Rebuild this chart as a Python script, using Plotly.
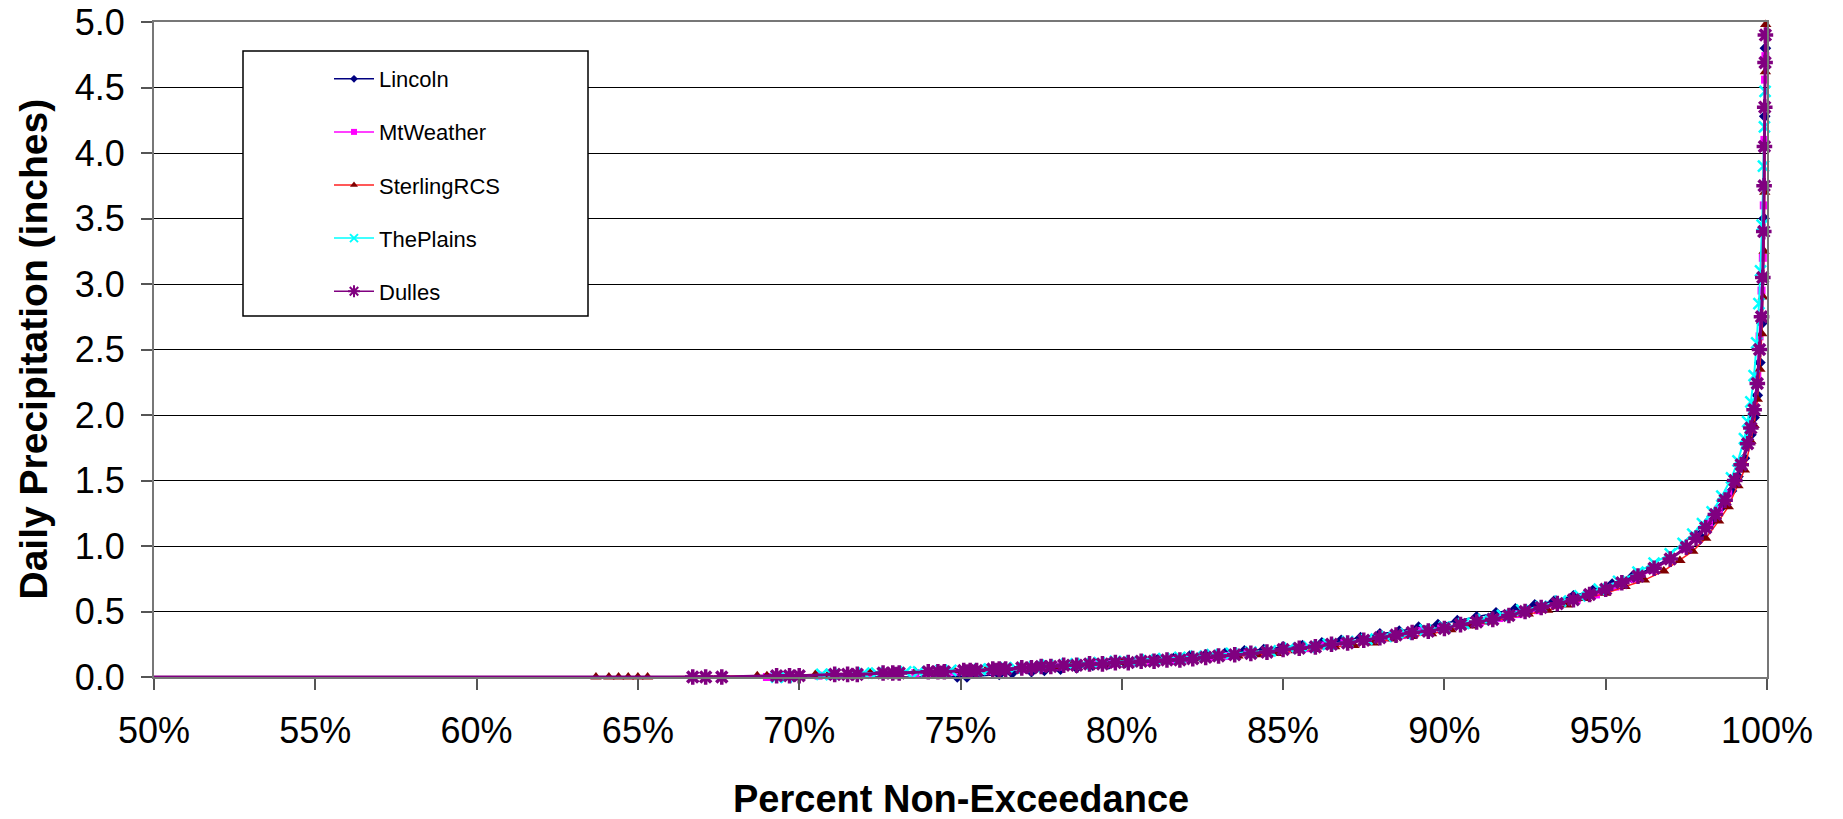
import plotly.graph_objects as go

# ---------------- data ----------------
X_TICKS = [0.50, 0.55, 0.60, 0.65, 0.70, 0.75, 0.80, 0.85, 0.90, 0.95, 1.00]
Y_TICKS = [0.0, 0.5, 1.0, 1.5, 2.0, 2.5, 3.0, 3.5, 4.0, 4.5, 5.0]

lincoln_x = [
    0.000, 0.749, 0.752, 0.762, 0.766, 0.772, 0.776, 0.781, 0.786, 0.791,
    0.796, 0.801, 0.806, 0.811, 0.816, 0.821, 0.826, 0.832, 0.838, 0.844,
    0.850, 0.856, 0.862, 0.868, 0.874, 0.880, 0.886, 0.892, 0.898, 0.904,
    0.910, 0.916, 0.922, 0.928, 0.934, 0.940, 0.946, 0.952, 0.958, 0.964,
    0.970, 0.975, 0.979, 0.983, 0.986, 0.989, 0.991, 0.993, 0.995, 0.996,
    0.997, 0.9978, 0.9984, 0.9988, 0.9991, 0.9993, 0.9995]
lincoln_y = [
    0.00, 0.00, 0.00, 0.02, 0.03, 0.04, 0.05, 0.06, 0.07, 0.09,
    0.10, 0.11, 0.12, 0.13, 0.14, 0.16, 0.17, 0.18, 0.20, 0.21,
    0.23, 0.24, 0.26, 0.28, 0.30, 0.33, 0.35, 0.38, 0.40, 0.43,
    0.46, 0.49, 0.52, 0.55, 0.58, 0.62, 0.66, 0.71, 0.76, 0.83,
    0.91, 0.99, 1.08, 1.19, 1.30, 1.42, 1.53, 1.67, 1.85, 1.98,
    2.15, 2.40, 2.70, 3.05, 3.50, 4.28, 4.80]

mtweather_x = [
    0.000, 0.690, 0.694, 0.706, 0.710, 0.722, 0.726, 0.736, 0.740, 0.748,
    0.752, 0.759, 0.763, 0.770, 0.775, 0.781, 0.786, 0.792, 0.797, 0.803,
    0.809, 0.815, 0.821, 0.827, 0.833, 0.839, 0.845, 0.851, 0.857, 0.863,
    0.869, 0.875, 0.881, 0.887, 0.893, 0.899, 0.905, 0.911, 0.917, 0.923,
    0.929, 0.935, 0.941, 0.947, 0.953, 0.959, 0.965, 0.970, 0.974, 0.978,
    0.982, 0.985, 0.988, 0.990, 0.992, 0.994, 0.995, 0.996, 0.997, 0.9977,
    0.9983, 0.9987, 0.9990, 0.9992, 0.9994, 0.9995]
mtweather_y = [
    0.00, 0.00, 0.00, 0.01, 0.01, 0.02, 0.02, 0.03, 0.03, 0.04,
    0.04, 0.05, 0.05, 0.06, 0.07, 0.08, 0.09, 0.10, 0.10, 0.11,
    0.12, 0.13, 0.14, 0.15, 0.16, 0.18, 0.19, 0.21, 0.22, 0.24,
    0.26, 0.28, 0.30, 0.32, 0.35, 0.37, 0.40, 0.42, 0.45, 0.48,
    0.51, 0.55, 0.59, 0.63, 0.69, 0.75, 0.82, 0.90, 0.98, 1.07,
    1.18, 1.28, 1.40, 1.50, 1.63, 1.80, 1.92, 2.08, 2.30, 2.60,
    2.95, 3.20, 3.60, 4.10, 4.56, 4.74]

sterling_x = [
    0.000, 0.637, 0.641, 0.644, 0.647, 0.650, 0.653, 0.687, 0.690, 0.693,
    0.705, 0.709, 0.722, 0.726, 0.736, 0.740, 0.748, 0.752, 0.758, 0.762,
    0.768, 0.773, 0.779, 0.784, 0.790, 0.795, 0.800, 0.806, 0.812, 0.818,
    0.824, 0.830, 0.836, 0.842, 0.848, 0.854, 0.860, 0.866, 0.872, 0.878,
    0.884, 0.890, 0.896, 0.902, 0.908, 0.914, 0.920, 0.926, 0.932, 0.938,
    0.944, 0.950, 0.956, 0.962, 0.968, 0.973, 0.977, 0.981, 0.985, 0.988,
    0.991, 0.993, 0.995, 0.996, 0.997, 0.9978, 0.9984, 0.9988, 0.9991, 0.9993,
    0.9995, 0.9996]
sterling_y = [
    0.00, 0.00, 0.00, 0.00, 0.00, 0.00, 0.00, 0.01, 0.01, 0.01,
    0.02, 0.02, 0.03, 0.03, 0.04, 0.04, 0.05, 0.05, 0.06, 0.06,
    0.07, 0.07, 0.08, 0.09, 0.10, 0.10, 0.11, 0.12, 0.12, 0.13,
    0.14, 0.15, 0.16, 0.17, 0.18, 0.20, 0.21, 0.23, 0.24, 0.26,
    0.29, 0.31, 0.33, 0.36, 0.39, 0.42, 0.45, 0.48, 0.51, 0.55,
    0.60, 0.64, 0.69, 0.74, 0.81, 0.89, 0.96, 1.06, 1.19, 1.30,
    1.46, 1.58, 1.80, 1.92, 2.12, 2.35, 2.62, 2.90, 3.25, 3.70,
    4.62, 4.98]

plains_x = [
    0.000, 0.693, 0.696, 0.707, 0.710, 0.720, 0.724, 0.733, 0.737, 0.744,
    0.747, 0.756, 0.759, 0.764, 0.767, 0.773, 0.777, 0.783, 0.788, 0.793,
    0.798, 0.803, 0.808, 0.813, 0.818, 0.823, 0.828, 0.834, 0.840, 0.846,
    0.852, 0.858, 0.864, 0.870, 0.876, 0.882, 0.888, 0.894, 0.900, 0.906,
    0.912, 0.918, 0.924, 0.930, 0.936, 0.942, 0.948, 0.954, 0.960, 0.965,
    0.970, 0.974, 0.977, 0.980, 0.983, 0.986, 0.989, 0.991, 0.993, 0.994,
    0.995, 0.996, 0.9968, 0.9975, 0.9980, 0.9985, 0.9989, 0.9992, 0.9994]
plains_y = [
    0.00, 0.00, 0.00, 0.02, 0.02, 0.03, 0.03, 0.04, 0.04, 0.05,
    0.05, 0.06, 0.06, 0.07, 0.07, 0.08, 0.09, 0.10, 0.10, 0.11,
    0.12, 0.12, 0.13, 0.14, 0.15, 0.16, 0.17, 0.18, 0.19, 0.20,
    0.22, 0.23, 0.25, 0.27, 0.29, 0.31, 0.33, 0.36, 0.38, 0.41,
    0.44, 0.47, 0.51, 0.54, 0.58, 0.62, 0.67, 0.73, 0.80, 0.87,
    0.94, 1.02, 1.09, 1.17, 1.26, 1.38, 1.52, 1.65, 1.82, 1.95,
    2.10, 2.30, 2.55, 2.85, 3.10, 3.45, 3.90, 4.20, 4.47]

dulles_x = [
    0.000, 0.667, 0.671, 0.676, 0.693, 0.697, 0.700, 0.711, 0.715, 0.718,
    0.726, 0.729, 0.731, 0.740, 0.743, 0.745, 0.751, 0.753, 0.755, 0.760,
    0.762, 0.764, 0.769, 0.772, 0.775, 0.778, 0.782, 0.786, 0.790, 0.794,
    0.798, 0.802, 0.806, 0.810, 0.814, 0.818, 0.822, 0.826, 0.830, 0.835,
    0.840, 0.845, 0.850, 0.855, 0.860, 0.865, 0.870, 0.875, 0.880, 0.885,
    0.890, 0.895, 0.900, 0.905, 0.910, 0.915, 0.920, 0.925, 0.930, 0.935,
    0.940, 0.945, 0.950, 0.955, 0.960, 0.965, 0.970, 0.975, 0.978, 0.981,
    0.984, 0.987, 0.990, 0.992, 0.994, 0.995, 0.996, 0.997, 0.9977, 0.9983,
    0.9987, 0.9990, 0.9991, 0.9992, 0.9993, 0.9994, 0.9995]
dulles_y = [
    0.00, 0.00, 0.00, 0.00, 0.01, 0.01, 0.01, 0.02, 0.02, 0.02,
    0.03, 0.03, 0.03, 0.04, 0.04, 0.04, 0.05, 0.05, 0.05, 0.06,
    0.06, 0.06, 0.07, 0.07, 0.08, 0.08, 0.09, 0.09, 0.10, 0.10,
    0.11, 0.11, 0.12, 0.12, 0.13, 0.13, 0.14, 0.15, 0.16, 0.17,
    0.18, 0.19, 0.21, 0.22, 0.23, 0.25, 0.26, 0.28, 0.30, 0.32,
    0.34, 0.35, 0.37, 0.40, 0.42, 0.44, 0.47, 0.50, 0.53, 0.56,
    0.59, 0.63, 0.67, 0.72, 0.77, 0.83, 0.90, 0.99, 1.06, 1.14,
    1.24, 1.35, 1.50, 1.62, 1.78, 1.90, 2.04, 2.24, 2.50, 2.75,
    3.05, 3.40, 3.75, 4.05, 4.35, 4.69, 4.90]

SERIES_NAMES = ["Lincoln", "MtWeather", "SterlingRCS", "ThePlains", "Dulles"]

# ---------------- styling ----------------
FONT = "Arial, 'Liberation Sans', sans-serif"
W, H = 1843, 819
L, R, T, B = 154, 1767, 22, 677   # plot area in px

styles = {
    "Lincoln":     dict(line="#000080", mk="#000080", sym="diamond",     size=9,  lw=0,   w=1.5),
    "MtWeather":   dict(line="#FF00FF", mk="#FF00FF", sym="square",      size=8,  lw=0,   w=1.5),
    "SterlingRCS": dict(line="#FF2020", mk="#800000", sym="triangle-up", size=10, lw=0,   w=1.5),
    "ThePlains":   dict(line="#00FFFF", mk="#00FFFF", sym="x-thin",      size=11, lw=2.5, w=2),
    "Dulles":      dict(line="#800080", mk="#800080", sym="asterisk",    size=13, lw=3.5, w=3),
}
data = {
    "Lincoln": (lincoln_x, lincoln_y),
    "MtWeather": (mtweather_x, mtweather_y),
    "SterlingRCS": (sterling_x, sterling_y),
    "ThePlains": (plains_x, plains_y),
    "Dulles": (dulles_x, dulles_y),
}

fig = go.Figure()
for name in SERIES_NAMES:
    xs, ys = data[name]
    s = styles[name]
    fig.add_trace(go.Scatter(
        x=xs, y=ys, mode="lines+markers", name=name, showlegend=False,
        line=dict(color=s["line"], width=s["w"]),
        marker=dict(symbol=s["sym"], size=s["size"], color=s["mk"],
                    line=dict(color=s["mk"], width=s["lw"])),
        cliponaxis=False))

# legend entries (small symbols as in the reference legend)
for name in SERIES_NAMES:
    s = styles[name]
    fig.add_trace(go.Scatter(
        x=[None], y=[None], mode="lines+markers", name=name,
        legendgroup=name, showlegend=True,
        line=dict(color=s["line"], width=1.5),
        marker=dict(symbol=s["sym"], size=max(s["size"] - 3, 6), color=s["mk"],
                    line=dict(color=s["mk"], width=min(s["lw"], 2)))))

def px_x(p):
    return (p - L) / (R - L)

def px_y(p):
    return (B - p) / (B - T)

# legend frame
fig.add_shape(type="rect", xref="paper", yref="paper",
              x0=px_x(243), x1=px_x(588), y0=px_y(316), y1=px_y(51),
              line=dict(color="black", width=1.5), fillcolor="white", layer="above")

axis_common = dict(
    showline=True, linecolor="#777777", linewidth=2, mirror=True,
    ticks="outside", ticklen=11, tickcolor="#555555", tickwidth=1.5,
    tickfont=dict(family=FONT, size=36, color="black"),
    zeroline=False,
)

fig.update_layout(
    width=W, height=H,
    margin=dict(l=L, r=W - R, t=T, b=H - B, autoexpand=False),
    paper_bgcolor="white", plot_bgcolor="white",
    font=dict(family=FONT, color="black"),
    xaxis=dict(range=[0.5, 1.0], tickvals=X_TICKS, tickformat=".0%",
               showgrid=False, ticklabelstandoff=10, **axis_common),
    yaxis=dict(range=[0, 5], tickvals=Y_TICKS, tickformat=".1f",
               showgrid=True, gridcolor="black", gridwidth=1,
               ticklabelstandoff=9, **axis_common),
    legend=dict(x=px_x(329), y=px_y(58), xanchor="left", yanchor="top",
                bgcolor="rgba(0,0,0,0)", borderwidth=0,
                font=dict(family=FONT, size=22, color="black"),
                traceorder="grouped", tracegroupgap=21.5, itemwidth=40),
    annotations=[
        dict(text="<b>Percent Non-Exceedance</b>", xref="paper", yref="paper",
             x=0.5, y=px_y(799), xanchor="center", yanchor="middle",
             showarrow=False, font=dict(family=FONT, size=38, color="black")),
        dict(text="<b>Daily Precipitation (inches)</b>", xref="paper", yref="paper",
             x=px_x(33), y=0.5, xanchor="center", yanchor="middle", textangle=-90,
             showarrow=False, font=dict(family=FONT, size=39, color="black")),
    ],
)

fig.write_html("out.html",
               config={"displayModeBar": False},
               post_script="document.body.style.margin='0px';document.body.style.overflow='hidden';")
